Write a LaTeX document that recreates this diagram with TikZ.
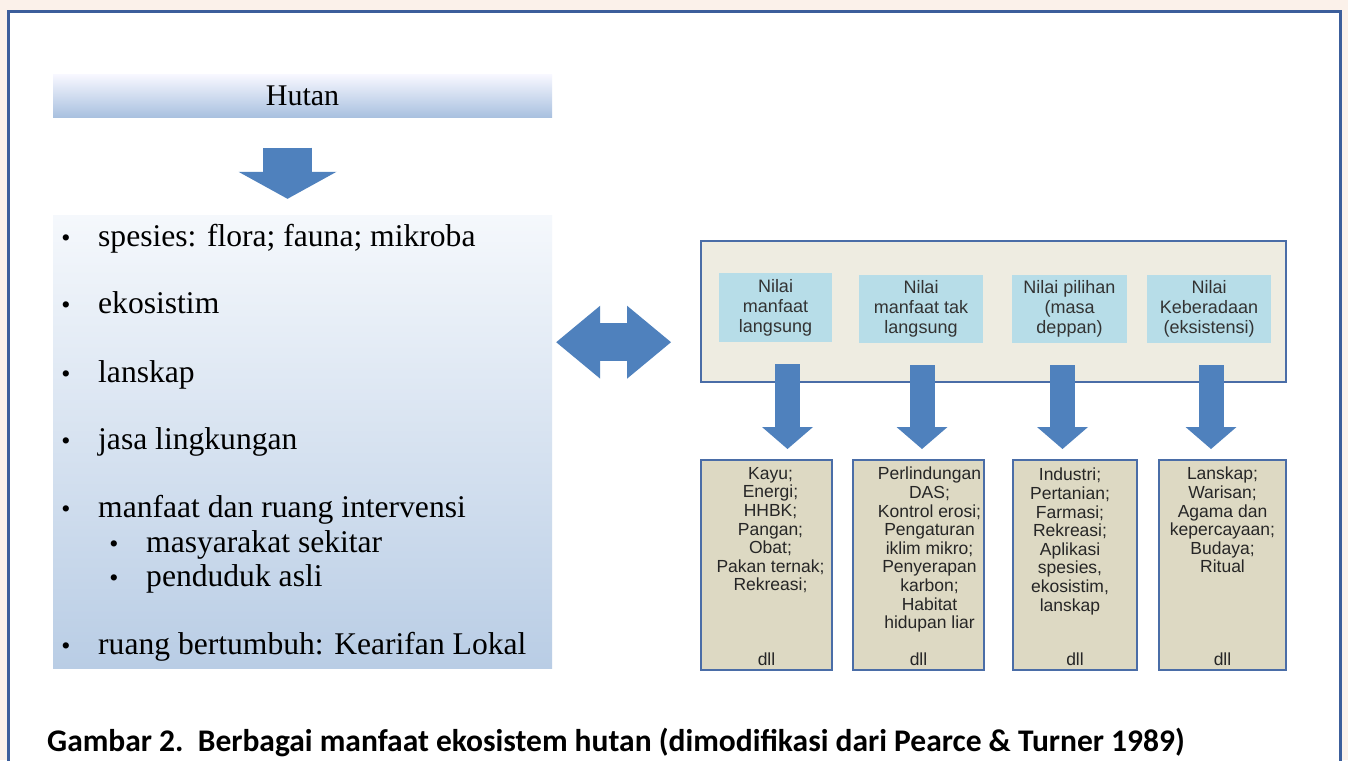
\documentclass[tikz,border=0pt]{standalone}
\usepackage{fontspec}
\setmainfont{Liberation Serif}
\newfontfamily\arialfont{Liberation Sans}
\newfontfamily\calibrifont{Carlito}
\usetikzlibrary{arrows.meta}

\definecolor{pagepeach}{HTML}{FBF1EA}
\definecolor{frameblue}{HTML}{3C5E9B}
\definecolor{arrowblue}{HTML}{4F81BD}
\definecolor{boxedge}{HTML}{4A6DA7}
\definecolor{panelgrey}{HTML}{EEECE1}
\definecolor{valblue}{HTML}{B7DDE8}
\definecolor{usetan}{HTML}{DDD9C3}

\tikzset{
    valuebox/.style={fill=valblue, inner sep=0pt, align=center, text=black!80,
        font=\arialfont\fontsize{18}{20}\selectfont},
    usebox/.style={draw=boxedge, line width=2pt, fill=usetan, inner sep=0pt},
    usetext/.style={align=center, inner sep=0pt, text=black!85,
        font=\arialfont\fontsize{17.5}{18.6}\selectfont},
    listtext/.style={anchor=base west, inner sep=0pt, font=\fontsize{31.6}{36}\selectfont},
    bullettext/.style={anchor=base, inner sep=0pt, font=\fontsize{26}{28}\selectfont},
    fatdown/.style={draw=arrowblue, line width=25pt,
        -{Triangle[length=22pt,width=51pt,line width=0pt]}},
}

\begin{document}
\begin{tikzpicture}[x=1pt,y=-1pt]
    \clip (0,0) rectangle (1348,760);
    % Page and frame
    \fill[pagepeach] (0,0) rectangle (1348,760);
    \draw[frameblue, line width=3pt, fill=white] (8.5,11.5) rectangle (1340.5,780);

    % Hutan bar and list of components
    \node[minimum width=499pt, minimum height=43pt, inner sep=0pt,
          top color=blue!3!white, bottom color={rgb,255:red,168;green,192;blue,223},
          font=\fontsize{30}{34}\selectfont] (hutan) at (302.5,96) {Hutan};
    \node[minimum width=499pt, minimum height=453pt, inner sep=0pt,
          top color={rgb,255:red,245;green,248;blue,252},
          bottom color={rgb,255:red,185;green,205;blue,229}] (list) at (302.5,441.5) {};

    \foreach \ypos/\xind/\entry [count=\i] in {
        246/0/{spesies: flora; fauna; mikroba},
        313/0/{ekosistim},
        382/0/{lanskap},
        449/0/{jasa lingkungan},
        517/0/{manfaat dan ruang intervensi},
        552/48/{masyarakat sekitar},
        586/48/{penduduk asli},
        654/0/{ruang bertumbuh: Kearifan Lokal}}
    {
        \node[bullettext] (bul\i) at (66+\xind,\ypos) {•};
        \node[listtext] (item\i) at (98+\xind,\ypos) {\entry};
    }

    % Value panel
    \node[draw=boxedge, line width=2pt, fill=panelgrey, inner sep=0pt,
          minimum width=585pt, minimum height=141pt] (panel) at (993.5,311.5) {};
    \node[valuebox, minimum width=113pt, minimum height=69pt] (val1) at (775.5,307.5)
        {Nilai\\manfaat\\langsung};
    \node[valuebox, minimum width=124pt, minimum height=68pt] (val2) at (921,309)
        {Nilai\\manfaat tak\\langsung};
    \node[valuebox, minimum width=115pt, minimum height=68pt] (val3) at (1069.5,309)
        {Nilai pilihan\\(masa\\deppan)};
    \node[valuebox, minimum width=124pt, minimum height=68pt] (val4) at (1209,309)
        {Nilai\\Keberadaan\\(eksistensi)};

    % Use boxes
    \node[usebox, minimum width=131pt, minimum height=210pt] (use1) at (766.5,565) {};
    \node[usebox, minimum width=131pt, minimum height=210pt] (use2) at (918.5,565) {};
    \node[usebox, minimum width=124pt, minimum height=210pt] (use3) at (1075,565) {};
    \node[usebox, minimum width=127pt, minimum height=210pt] (use4) at (1222.5,565) {};

    \node[usetext, anchor=north] (list1) at ([xshift=4pt,yshift=-8pt]use1.north)
        {Kayu;\\Energi;\\HHBK;\\Pangan;\\Obat;\\Pakan ternak;\\Rekreasi;};
    \node[usetext, anchor=north] (list2) at ([xshift=11pt,yshift=-8pt]use2.north)
        {Perlindungan\\DAS;\\Kontrol erosi;\\Pengaturan\\iklim mikro;\\Penyerapan\\karbon;\\Habitat\\hidupan liar};
    \node[usetext, anchor=north] (list3) at ([xshift=-5pt,yshift=-9pt]use3.north)
        {Industri;\\Pertanian;\\Farmasi;\\Rekreasi;\\Aplikasi\\spesies,\\ekosistim,\\lanskap};
    \node[usetext, anchor=north] (list4) at ([yshift=-8pt]use4.north)
        {Lanskap;\\Warisan;\\Agama dan\\kepercayaan;\\Budaya;\\Ritual};
    \foreach \i in {1,...,4}
        \node[usetext, anchor=base] (dll\i) at ([yshift=6pt]use\i.south) {dll};

    % Block arrows
    \draw[draw=arrowblue, line width=49pt, shorten <=30pt, shorten >=16pt,
          -{Triangle[length=27pt,width=98pt,line width=0pt]}]
        ([xshift=-15pt]hutan.south) -- ([xshift=-15pt]hutan.south |- list.north);
    \draw[draw=arrowblue, line width=38pt, shorten <=4pt, shorten >=29pt,
          {Triangle[length=44pt,width=73pt,line width=0pt]}-{Triangle[length=44pt,width=73pt,line width=0pt]}]
        (list.east |- val1.south) -- (panel.west |- val1.south);
    \draw[fatdown, shorten <=22pt, shorten >=10pt]
        ([xshift=12pt]val1.south) -- ([xshift=12pt]val1.south |- use1.north);
    \draw[fatdown, shorten <=22pt, shorten >=10pt]
        ([xshift=1pt]val2.south) -- ([xshift=1pt]val2.south |- use2.north);
    \draw[fatdown, shorten <=22pt, shorten >=10pt]
        ([xshift=-7pt]val3.south) -- ([xshift=-7pt]val3.south |- use3.north);
    \draw[fatdown, shorten <=22pt, shorten >=10pt]
        ([xshift=2pt]val4.south) -- ([xshift=2pt]val4.south |- use4.north);

    % Caption
    \node[anchor=base west, inner sep=0pt, font=\calibrifont\bfseries\fontsize{31.5}{36}\selectfont] (caption)
        at (47,751.5) {Gambar 2.\ \ Berbagai manfaat ekosistem hutan (dimodifikasi dari Pearce \& Turner 1989)};
\end{tikzpicture}
\end{document}
